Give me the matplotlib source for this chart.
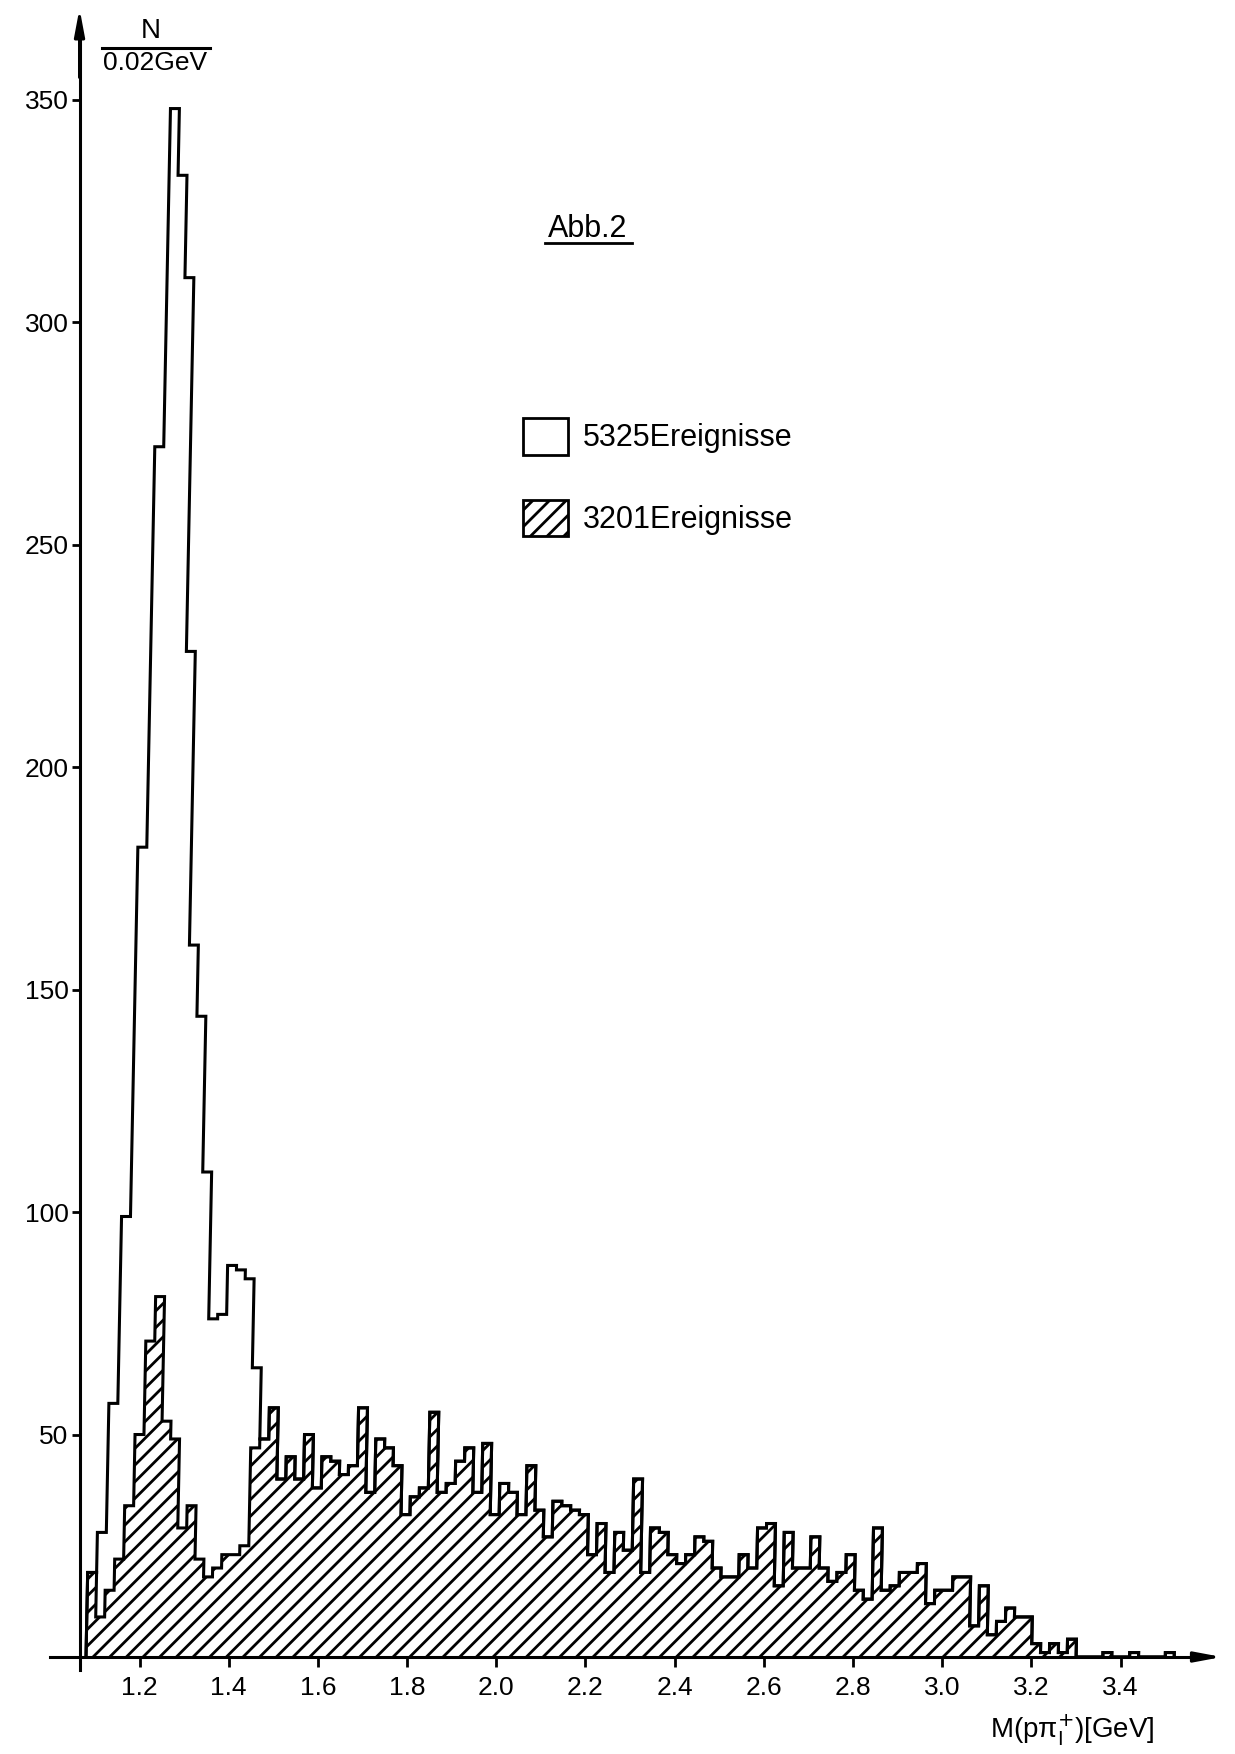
import numpy as np
import matplotlib
matplotlib.use("Agg")
import matplotlib.pyplot as plt
from matplotlib.patches import Patch
from matplotlib.lines import Line2D
from matplotlib.transforms import Affine2D

plt.rcParams['font.family'] = ['Liberation Sans', 'DejaVu Sans']
plt.rcParams['hatch.linewidth'] = 2.0

# histogram binning: 0.02 GeV bins starting at 1.08 GeV
bin_lo = 1.08
bin_w = 0.02

# hatched sample (3201 events), one value per bin from 1.08 GeV upwards
hatched_counts = [
    19, 9, 15, 22, 34, 50, 71, 81, 53, 49, 29, 34, 22, 18, 20, 23, 23, 25, 47, 49, 56,
    40, 45, 40, 50, 38, 45, 44, 41, 43, 56, 37, 49, 47, 43, 32, 36, 38, 55, 37, 39, 44, 47,
    37, 48, 32, 39, 37, 32, 43, 33,
    27, 35, 34, 33, 32, 23, 30, 19, 28, 24, 40, 19, 29, 28, 23, 21, 23, 27, 26, 20, 18, 18,
    23, 20, 29, 30, 16, 28, 20, 20,
    27, 20, 17, 19, 23, 15, 13, 29, 15, 16, 19, 19, 21, 12, 15, 15, 18, 18, 7, 16, 5, 8,
    11, 9, 9,
    3, 1, 3, 1, 4, 0, 0, 0, 1, 0, 0, 1, 0, 0, 0, 1,
]
# full sample (5325 events) where it lies above the hatched one (1.08 - 1.44 GeV)
open_low = [19, 28, 57, 99, 182, 272, 348, 333, 310, 226, 160, 144, 109, 76, 77, 88, 87, 85, 65]
open_counts = open_low + hatched_counts[len(open_low):]

y_ticks = [50, 100, 150, 200, 250, 300, 350]
x_ticks = [1.2, 1.4, 1.6, 1.8, 2.0, 2.2, 2.4, 2.6, 2.8, 3.0, 3.2, 3.4]
x_ticklabels = ["1.2", "1.4", "1.6", "1.8", "2.0", "2.2", "2.4", "2.6", "2.8", "3.0", "3.2", "3.4"]
legend_labels = ["5325Ereignisse", "3201Ereignisse"]

edges = bin_lo + bin_w * np.arange(len(hatched_counts) + 1)

fig = plt.figure(figsize=(12.35, 17.54), dpi=100)
ax = fig.add_axes([0, 0, 1, 1])
ax.set_xlim(0.8872, 3.6563)
ax.set_ylim(-21.8, 372.4)

# hatched histogram and outlines
h_fill = ax.stairs(hatched_counts, edges, fill=True, facecolor='white', edgecolor='black',
                   hatch='//', linewidth=0)
o_line = ax.stairs(open_counts, edges, color='black', linewidth=2.2)
h_line = ax.stairs(hatched_counts, edges, color='black', linewidth=2.2)

# the plotter pen of the original drifts to the right on the way up:
# lean the histogram a little about the baseline
base_y = ax.transData.transform((1.0, 0.0))[1]
lean = Affine2D().translate(0, -base_y).skew(np.arctan(0.02), 0).translate(0, base_y)
for art in (h_fill, o_line, h_line):
    art.set_transform(ax.transData + lean)

# axes drawn like the hand-made original
x_axis_pos = 1.0655
for side in ['top', 'right']:
    ax.spines[side].set_visible(False)
ax.spines['left'].set_position(('data', x_axis_pos))
ax.spines['left'].set_bounds(-3, 364)
ax.spines['bottom'].set_position(('data', 0))
ax.spines['bottom'].set_bounds(0.999, 3.59)
for side in ['left', 'bottom']:
    ax.spines[side].set_linewidth(2.2)

ax.annotate('', xy=(x_axis_pos, 370.5), xytext=(x_axis_pos, 355),
            arrowprops=dict(arrowstyle='-|>,head_length=1.6,head_width=0.3',
                            color='black', lw=2.2, shrinkA=0, shrinkB=0))
ax.annotate('', xy=(3.627, 0), xytext=(3.57, 0),
            arrowprops=dict(arrowstyle='-|>,head_length=1.6,head_width=0.3',
                            color='black', lw=2.2, shrinkA=0, shrinkB=0))

ax.set_yticks(y_ticks)
ax.tick_params(axis='y', direction='out', length=6, width=2, pad=2, labelsize=19)
ax.set_xticks(x_ticks, x_ticklabels)
ax.tick_params(axis='x', direction='out', length=7, width=2, pad=7, labelsize=19)
for lab in ax.get_xticklabels():
    lab.set_fontfamily(['Liberation Sans Narrow', 'Liberation Sans'])

# y axis unit label  N / 0.02GeV
fig.text(151 / 1235, 1 - 31 / 1754, 'N', ha='center', va='center', fontsize=20)
fig.add_artist(Line2D([102 / 1235, 210 / 1235], [1 - 48 / 1754] * 2, color='black', lw=2.2))
fig.text(155 / 1235, 1 - 63 / 1754, '0.02GeV', ha='center', va='center', fontsize=19)

# x axis label
fig.text(990 / 1235, 1 - 1730 / 1754, r'M(pπ$^{+}_{\mathrm{I}}$)[GeV]', ha='left',
         va='center', fontsize=20)

# figure caption
fig.text(548 / 1235, 1 - 229 / 1754, 'Abb.2', ha='left', va='center', fontsize=22)
fig.add_artist(Line2D([545 / 1235, 632 / 1235], [1 - 243 / 1754] * 2, color='black', lw=2))

handles = [Patch(facecolor='white', edgecolor='black', linewidth=2),
           Patch(facecolor='white', edgecolor='black', hatch='//', linewidth=2)]
ax.legend(handles, legend_labels, loc='upper left',
          bbox_to_anchor=(523 / 1235, 1 - 418 / 1754), bbox_transform=fig.transFigure,
          frameon=False, fontsize=22, handlelength=1.47, handleheight=1.47,
          labelspacing=1.47, handletextpad=0.5, borderpad=0, borderaxespad=0)

fig.savefig('out.png', dpi=100)
